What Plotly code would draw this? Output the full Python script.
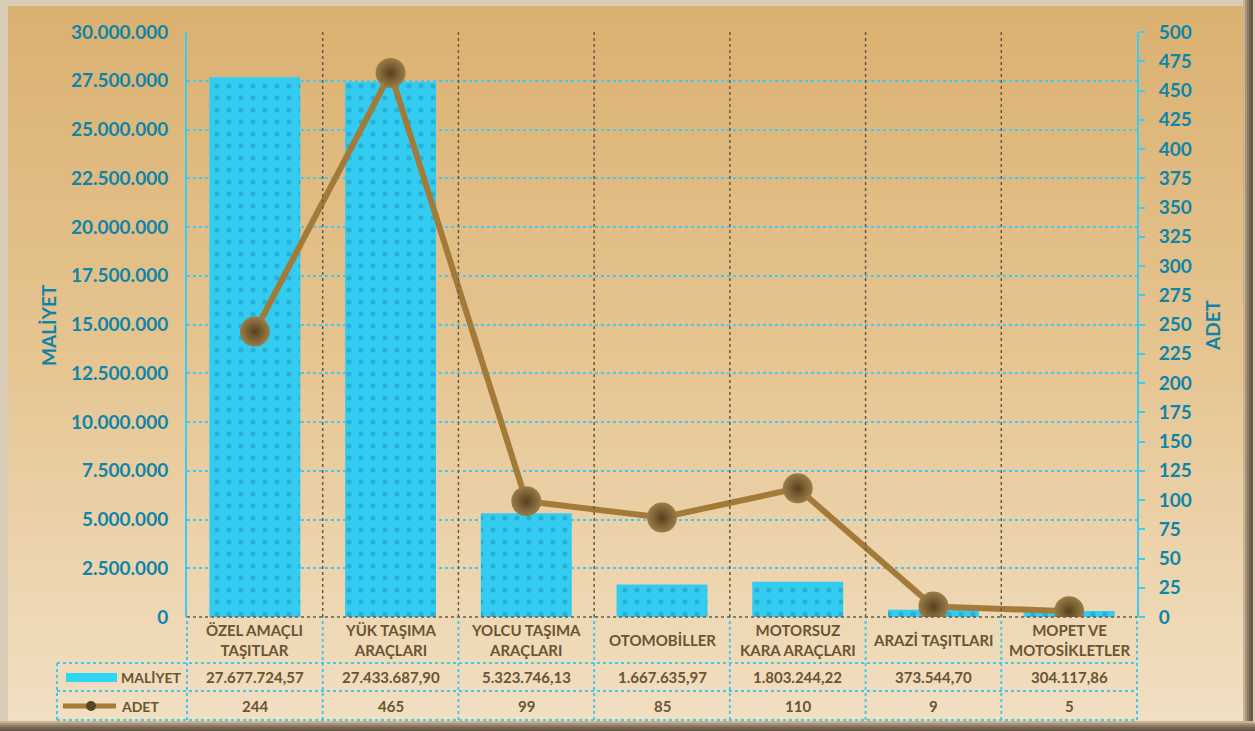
import plotly.graph_objects as go

categories = ['ÖZEL AMAÇLI<br>TAŞITLAR', 'YÜK TAŞIMA<br>ARAÇLARI', 'YOLCU TAŞIMA<br>ARAÇLARI',
              'OTOMOBİLLER', 'MOTORSUZ<br>KARA ARAÇLARI', 'ARAZİ TAŞITLARI', 'MOPET VE<br>MOTOSİKLETLER']
maliyet = [27677724.57, 27433687.90, 5323746.13, 1667635.97, 1803244.22, 373544.70, 304117.86]
maliyet_txt = ['27.677.724,57', '27.433.687,90', '5.323.746,13', '1.667.635,97',
               '1.803.244,22', '373.544,70', '304.117,86']
adet = [244, 465, 99, 85, 110, 9, 5]

W, H = 1255, 731
L, R, T, B = 187, 118, 32, 114
pw, ph = W - L - R, H - T - B

def px(x):
    return (x - L) / pw

def py(y):
    return (H - B - y) / ph

teal = '#0E85A8'
brown_txt = '#6B5430'
cyan = '#3CCBF2'
line_col = '#A47A38'

fig = go.Figure()
fig.add_trace(go.Bar(x=list(range(7)), y=maliyet, name='MALİYET', width=0.67,
                     marker=dict(color='#33CCF0', line=dict(width=0),
                                 pattern=dict(shape='.', fgcolor='#1C95C0', size=12, solidity=0.15)),
                     showlegend=False))
fig.add_trace(go.Scatter(x=list(range(7)), y=adet, name='ADET', yaxis='y2', mode='lines+markers',
                         line=dict(color=line_col, width=6),
                         marker=dict(size=30, color='#9A7E48', line=dict(width=0),
                                     gradient=dict(type='radial', color='#574020')),
                         showlegend=False))

# background gradient
def mix(c1, c2, t):
    a = [int(c1[i:i + 2], 16) for i in (1, 3, 5)]
    b = [int(c2[i:i + 2], 16) for i in (1, 3, 5)]
    return 'rgb(%d,%d,%d)' % tuple(round(a[k] + (b[k] - a[k]) * t) for k in range(3))

shapes = []
n = 60
top, mid, bot = '#DBB171', '#E6C592', '#F1DFC2'
y0px, y1px = 6, H - 10
for i in range(n):
    t = i / (n - 1)
    c = mix(top, mid, t * 2) if t < 0.5 else mix(mid, bot, (t - 0.5) * 2)
    ya = y0px + (y1px - y0px) * i / n
    yb = y0px + (y1px - y0px) * (i + 1) / n + 1
    shapes.append(dict(type='rect', xref='paper', yref='paper', layer='below',
                       x0=px(8), x1=px(W - 12), y0=py(yb), y1=py(ya),
                       line=dict(width=0), fillcolor=c))
# frame edges: bottom / right shadow
for j, c in enumerate(['#C8B394', '#A89478', '#8C7A62', '#75644F', '#66574A']):
    shapes.append(dict(type='rect', xref='paper', yref='paper', layer='below',
                       x0=px(0), x1=px(W), y0=py(H - 10 + 2 * j + 2), y1=py(H - 10 + 2 * j),
                       line=dict(width=0), fillcolor=c))
    shapes.append(dict(type='rect', xref='paper', yref='paper', layer='below',
                       x0=px(W - 12 + 2 * j), x1=px(W - 10 + 2 * j), y0=py(H - 10), y1=py(0),
                       line=dict(width=0), fillcolor=c))

# vertical separators in plot
for k in range(1, 7):
    xb = px(L + pw * k / 7)
    shapes.append(dict(type='line', xref='paper', yref='paper', x0=xb, x1=xb, y0=0, y1=1,
                       line=dict(color='#6A5A45', width=1.5, dash='dot')))
# table lines
tdot = dict(color='#45C8F0', width=2, dash='dot')
for yy in (663, 691, 720):
    shapes.append(dict(type='line', xref='paper', yref='paper', x0=px(57), x1=1,
                       y0=py(yy), y1=py(yy), line=tdot))
for k in range(8):
    xb = px(L + pw * k / 7)
    shapes.append(dict(type='line', xref='paper', yref='paper', x0=xb, x1=xb,
                       y0=py(720), y1=0, line=tdot))
shapes.append(dict(type='line', xref='paper', yref='paper', x0=px(57), x1=px(57),
                   y0=py(720), y1=py(663), line=tdot))
shapes.append(dict(type='line', xref='paper', yref='paper', x0=0, x1=1, y0=0, y1=0,
                   line=dict(color='#6A5A45', width=1.5, dash='dot')))
# legend swatches
shapes.append(dict(type='rect', xref='paper', yref='paper', x0=px(66), x1=px(117),
                   y0=py(682), y1=py(673), line=dict(width=0), fillcolor='#2ED8F4'))
shapes.append(dict(type='line', xref='paper', yref='paper', x0=px(63), x1=px(116),
                   y0=py(706), y1=py(706), line=dict(color=line_col, width=5)))
shapes.append(dict(type='circle', xref='paper', yref='paper', x0=px(86), x1=px(96),
                   y0=py(711), y1=py(701), line=dict(width=0), fillcolor='#5A4520'))

ann = []
tf = dict(family='Lato', size=15, color=brown_txt, weight='bold')
lf = dict(family='Lato', size=14, color=brown_txt, weight='bold')
for i in range(7):
    ann.append(dict(x=i, xref='x', y=py(640), yref='paper', text=categories[i],
                    showarrow=False, font=tf, yanchor='middle'))
    ann.append(dict(x=i, xref='x', y=py(677), yref='paper', text=maliyet_txt[i],
                    showarrow=False, font=tf, yanchor='middle'))
    ann.append(dict(x=i, xref='x', y=py(706), yref='paper', text=str(adet[i]),
                    showarrow=False, font=tf, yanchor='middle'))
ann.append(dict(x=px(119), xref='paper', y=py(677), yref='paper', text='MALİYET',
                showarrow=False, font=lf, xanchor='left', yanchor='middle'))
ann.append(dict(x=px(119), xref='paper', y=py(706), yref='paper', text='ADET',
                showarrow=False, font=lf, xanchor='left', yanchor='middle'))
af = dict(family='Lato', size=19, color=teal, weight='bold')
ann.append(dict(x=px(48), xref='paper', y=py(325), yref='paper', text='MALİYET',
                showarrow=False, font=af, textangle=-90, xanchor='center', yanchor='middle'))
ann.append(dict(x=px(1212), xref='paper', y=py(325), yref='paper', text='ADET',
                showarrow=False, font=af, textangle=-90, xanchor='center', yanchor='middle'))

fig.update_layout(
    width=W, height=H,
    margin=dict(l=L, r=R, t=T, b=B),
    paper_bgcolor='#D9CDB8', plot_bgcolor='rgba(0,0,0,0)',
    separators=',.',
    bargap=0.33,
    xaxis=dict(range=[-0.5, 6.5], showticklabels=False, showgrid=False, zeroline=False,
               showline=False, ticks=''),
    yaxis=dict(range=[0, 30000000], dtick=2500000, tickformat=',d',
               tickfont=dict(family='Lato', size=19, color=teal, weight='bold'),
               showgrid=True, gridcolor='#45C8F0', gridwidth=2, griddash='dot',
               zeroline=False, showline=True, linecolor=cyan, linewidth=2,
               ticks='', ticklabelstandoff=13),
    yaxis2=dict(range=[0, 500], dtick=25, overlaying='y', side='right',
                tickfont=dict(family='Lato', size=19, color=teal, weight='bold'),
                showgrid=False, zeroline=False, showline=True, linecolor=cyan, linewidth=2,
                ticks='outside', ticklen=6, tickcolor=cyan, tickwidth=2, ticklabelstandoff=10),
    shapes=shapes,
    annotations=ann,
)

fig.write_html("out.html", config={'displayModeBar': False},
               post_script="document.body.style.margin='0px';")
